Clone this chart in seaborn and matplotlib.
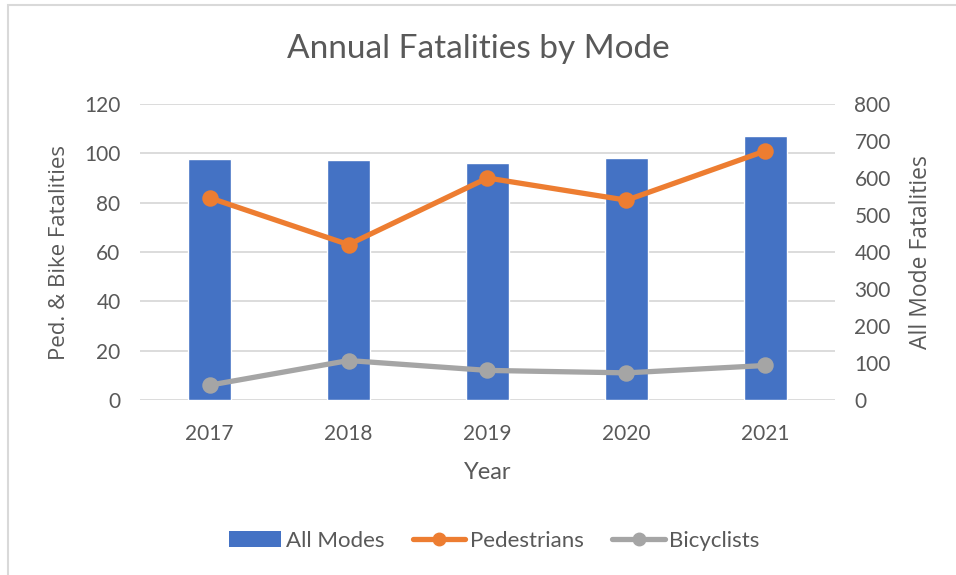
import matplotlib
matplotlib.use("Agg")
import matplotlib.pyplot as plt
from matplotlib.patches import Patch, Rectangle
from matplotlib.lines import Line2D
import seaborn as sns
import pandas as pd

years = ["2017", "2018", "2019", "2020", "2021"]
all_modes = [651, 649, 640, 654, 714]
pedestrians = [82, 63, 90, 81, 101]
bicyclists = [6, 16, 12, 11, 14]

left_ticks = [0, 20, 40, 60, 80, 100, 120]
right_ticks = [0, 100, 200, 300, 400, 500, 600, 700, 800]

BLUE = "#4472C4"
ORANGE = "#ED7D31"
GRAY = "#A5A5A5"
TEXT = "#595959"
GRID = "#D9D9D9"

sns.set_theme(style="white")
plt.rcParams["font.family"] = ["Lato", "DejaVu Sans"]

df = pd.DataFrame({"Year": years, "All Modes": all_modes,
                   "Pedestrians": pedestrians, "Bicyclists": bicyclists})

fig = plt.figure(figsize=(9.56, 5.75), dpi=100)
fig.patch.set_facecolor("white")

# chart frame (top and left edges visible)
fig.add_artist(Rectangle((8 / 956, -0.05), 1.1, (575 - 5) / 575 + 0.05,
                         transform=fig.transFigure, fill=False,
                         edgecolor=GRID, linewidth=1.5))

ax_bar = fig.add_axes([140 / 956, (575 - 400) / 575, 695 / 956, 296 / 575])
ax_bar.set_facecolor("none")

# gridlines at the left-axis ticks, drawn behind the bars
for v in left_ticks:
    ax_bar.axhline(v * 800 / 120, color=GRID, linewidth=1.3, zorder=0)

sns.barplot(data=df, x="Year", y="All Modes", ax=ax_bar, color=BLUE,
            width=0.31, saturation=1, zorder=2)

ax_line = ax_bar.twinx()
sns.pointplot(data=df, x="Year", y="Pedestrians", ax=ax_line, color=ORANGE,
              markers="o", markersize=9, linewidth=3.8, zorder=4)
sns.pointplot(data=df, x="Year", y="Bicyclists", ax=ax_line, color=GRAY,
              markers="o", markersize=9, linewidth=3.8, zorder=4)

# bar axis on the right (0-800)
ax_bar.set_ylim(0, 800)
ax_bar.set_xlim(-0.5, 4.5)
ax_bar.set_yticks(right_ticks)
ax_bar.yaxis.tick_right()
ax_bar.yaxis.set_label_position("right")
ax_bar.set_ylabel("All Mode Fatalities", color=TEXT, fontsize=16.5,
                  family=["Open Sans", "DejaVu Sans"], labelpad=13)
ax_bar.set_xlabel("Year", color=TEXT, fontsize=17, labelpad=13)

# line axis on the left (0-120)
ax_line.set_ylim(0, 120)
ax_line.set_xlim(-0.5, 4.5)
ax_line.set_yticks(left_ticks)
ax_line.yaxis.tick_left()
ax_line.yaxis.set_label_position("left")
ax_line.set_ylabel("Ped. & Bike Fatalities", color=TEXT, fontsize=16,
                   family=["Open Sans", "DejaVu Sans"], labelpad=10)
ax_line.set_xlabel("")

for a in (ax_bar, ax_line):
    for s in a.spines.values():
        s.set_visible(False)
    a.tick_params(axis="both", length=0, labelsize=15, colors=TEXT, pad=14)
    a.grid(False)
ax_bar.tick_params(axis="x", pad=17)

fig.text(0.5, 1 - 49 / 575, "Annual Fatalities by Mode", ha="center",
         va="center", fontsize=24, color=TEXT)

handles = [
    Patch(facecolor=BLUE, edgecolor="none"),
    Line2D([0], [0], color=ORANGE, linewidth=3.8, marker="o", markersize=9),
    Line2D([0], [0], color=GRAY, linewidth=3.8, marker="o", markersize=9),
]
fig.legend(handles, ["All Modes", "Pedestrians", "Bicyclists"],
           loc="center", bbox_to_anchor=(0.517, 1 - 541 / 575), ncol=3,
           frameon=False, fontsize=16, labelcolor=TEXT, handlelength=2.35,
           handleheight=0.75, handletextpad=0.2, columnspacing=1.3)

fig.savefig("out.png", dpi=100, facecolor="white")
